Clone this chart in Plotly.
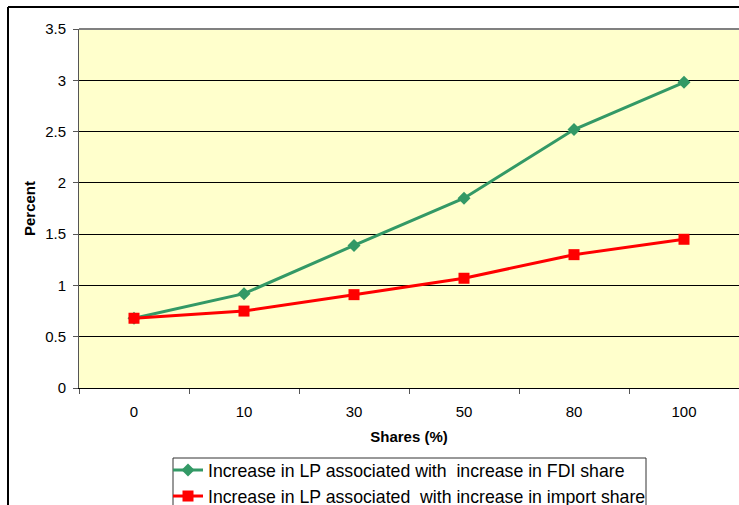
import plotly.graph_objects as go

# Share levels (%) on the category axis
shares = ["0", "10", "30", "50", "80", "100"]

# Increase in labour productivity (percent)
fdi_increase = [0.68, 0.92, 1.39, 1.85, 2.52, 2.98]
import_increase = [0.68, 0.75, 0.91, 1.07, 1.30, 1.45]

W, H = 739, 505
ML, MR, MT, MB = 79, 0, 29, 117
plot_w = W - ML - MR
plot_h = H - MT - MB


def px_x(x):
    return (x - ML) / plot_w


def px_y(y):
    return (MT + plot_h - y) / plot_h


fig = go.Figure()

fig.add_trace(go.Scatter(
    x=shares, y=fdi_increase, mode="lines+markers",
    name="Increase in LP associated with  increase in FDI share",
    line=dict(color="#339966", width=3),
    marker=dict(symbol="diamond", size=10, color="#339966"),
))
fig.add_trace(go.Scatter(
    x=shares, y=import_increase, mode="lines+markers",
    name="Increase in LP associated  with increase in import share",
    line=dict(color="#FF0000", width=3),
    marker=dict(symbol="square", size=11, color="#FF0000"),
))

font = dict(family="Liberation Sans, Arial, sans-serif", color="black")

fig.update_layout(
    width=W, height=H,
    margin=dict(l=ML, r=MR, t=MT, b=MB, autoexpand=False),
    paper_bgcolor="white",
    plot_bgcolor="#FFFFCC",
    font=dict(**font, size=15),
    showlegend=True,
    legend=dict(
        x=px_x(168), y=px_y(452),
        xanchor="left", yanchor="top",
        bgcolor="rgba(0,0,0,0)", borderwidth=0,
        font=dict(**font, size=17.7),
        itemwidth=30, tracegroupgap=0,
    ),
    xaxis=dict(
        type="category",
        tickson="boundaries",
        ticks="outside", ticklen=5, tickcolor="#555555",
        ticklabelstandoff=10,
        showline=True, linecolor="black", linewidth=1,
        showgrid=False,
        tickfont=dict(**font, size=15),
        title=dict(text="<b>Shares (%)</b>", font=dict(**font, size=15), standoff=12),
        range=[-0.5, 5.5],
    ),
    yaxis=dict(
        range=[0, 3.5], dtick=0.5,
        tickformat="~g",
        ticks="outside", ticklen=5, tickcolor="#555555",
        ticklabelstandoff=4,
        showline=True, linecolor="#555555", linewidth=1,
        showgrid=True, gridcolor="black", gridwidth=1,
        zeroline=False,
        tickfont=dict(**font, size=15),
        title=dict(text="<b>Percent</b>", font=dict(**font, size=15), standoff=5),
    ),
    shapes=[
        # plot area top edge
        dict(type="line", xref="paper", yref="paper", x0=0, x1=1, y0=1, y1=1,
             line=dict(color="#808080", width=2)),
        # outer chart frame (left and top)
        dict(type="line", xref="paper", yref="paper",
             x0=px_x(8), x1=px_x(8), y0=px_y(H + 10), y1=px_y(7),
             line=dict(color="black", width=2)),
        dict(type="line", xref="paper", yref="paper",
             x0=px_x(8), x1=px_x(W + 10), y0=px_y(7), y1=px_y(7),
             line=dict(color="black", width=2)),
        # legend frame
        dict(type="rect", xref="paper", yref="paper",
             x0=px_x(173), x1=px_x(646), y0=px_y(H + 10), y1=px_y(458),
             line=dict(color="#333333", width=1)),
    ],
)

fig.write_html("out.html")
